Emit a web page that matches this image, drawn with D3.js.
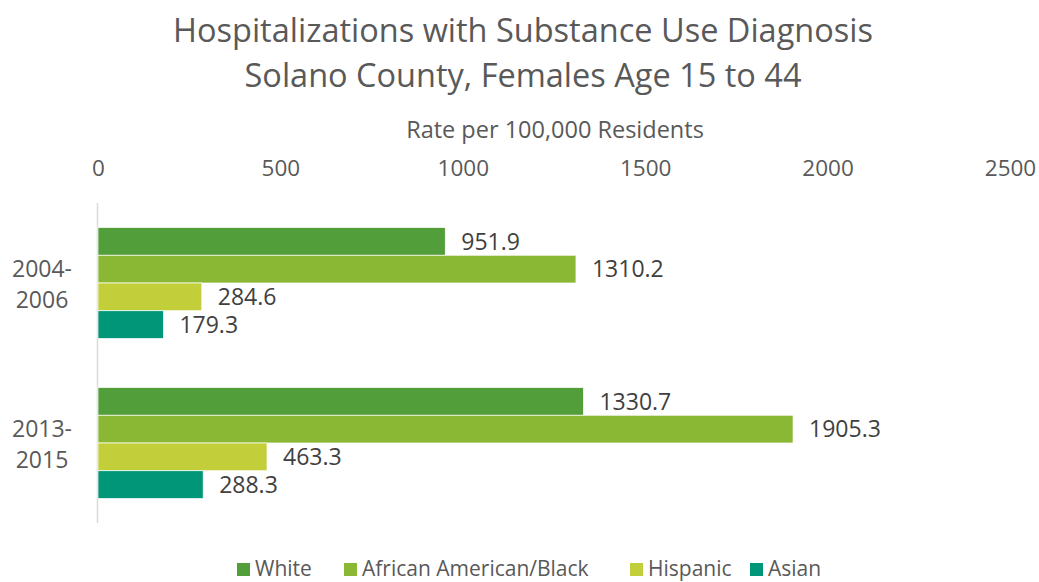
<!DOCTYPE html>
<html>
<head>
<meta charset="utf-8">
<script src="https://cdn.jsdelivr.net/npm/d3@7"></script>
<style>
  html, body { margin: 0; padding: 0; background: #fff; }
  svg { display: block; }
  text { font-family: "Open Sans", "Noto Sans", sans-serif; }
</style>
</head>
<body>
<svg id="chart" width="1039" height="582"></svg>
<script>
// Hospitalization rates per 100,000 residents, Solano County females 15-44
const periods = [["2004-", "2006"], ["2013-", "2015"]];
const periodKeys = ["2004-2006", "2013-2015"];
const groups = ["White", "African American/Black", "Hispanic", "Asian"];
const white = [951.9, 1330.7];
const black = [1310.2, 1905.3];
const hispanic = [284.6, 463.3];
const asian = [179.3, 288.3];
const xTicks = [0, 500, 1000, 1500, 2000, 2500];
const colors = ["#529E3B", "#8BB834", "#C3CF3A", "#029678"];

const seriesValues = [white, black, hispanic, asian];

const svg = d3.select("#chart");
const textColor = "#595959";

const x = d3.scaleLinear().domain([0, 2500]).range([98, 1010]);
const y0 = d3.scaleBand().domain(periodKeys).range([203, 523]).paddingInner(0).paddingOuter(0);
const groupInner = 111;
const y1 = d3.scaleBand().domain(groups).range([0, groupInner]).padding(0);

// Title
svg.append("text")
  .attr("x", 523).attr("y", 42)
  .attr("text-anchor", "middle")
  .attr("font-size", 32.5).attr("fill", textColor)
  .text("Hospitalizations with Substance Use Diagnosis");
svg.append("text")
  .attr("x", 523).attr("y", 87)
  .attr("text-anchor", "middle")
  .attr("font-size", 32.5).attr("fill", textColor)
  .text("Solano County, Females Age 15 to 44");

// Axis title
svg.append("text")
  .attr("x", 555).attr("y", 138)
  .attr("text-anchor", "middle")
  .attr("font-size", 23.5).attr("fill", textColor)
  .text("Rate per 100,000 Residents");

// Top axis tick labels
const xAxis = d3.axisTop(x).tickValues(xTicks).tickSize(0).tickPadding(0).tickFormat(d3.format("d"));
const gx = svg.append("g").attr("transform", "translate(0,176)").call(xAxis);
gx.select(".domain").remove();
gx.selectAll("text")
  .attr("font-size", 22.5).attr("fill", textColor)
  .attr("font-family", "'Open Sans', 'Noto Sans', sans-serif");

// Vertical category axis line
svg.append("line")
  .attr("x1", 97.5).attr("x2", 97.5)
  .attr("y1", 203).attr("y2", 523)
  .attr("stroke", "#d9d9d9").attr("stroke-width", 1.5);

// Bars
const gap = (y0.bandwidth() - groupInner) / 2;
periodKeys.forEach((p, i) => {
  const g = svg.append("g").attr("transform", `translate(0,${y0(p) + gap})`);
  groups.forEach((name, j) => {
    const v = seriesValues[j][i];
    g.append("rect")
      .attr("x", x(0))
      .attr("y", y1(name))
      .attr("width", x(v) - x(0))
      .attr("height", y1.bandwidth())
      .attr("fill", colors[j])
      .attr("stroke", "#fff").attr("stroke-width", 0.7);
    g.append("text")
      .attr("x", x(v) + 16)
      .attr("y", y1(name) + y1.bandwidth() / 2)
      .attr("dy", "0.36em")
      .attr("font-size", 23).attr("fill", "#404040")
      .text(v.toFixed(1));
  });
  // Category label (two lines)
  const cy = y0(p) + y0.bandwidth() / 2;
  svg.append("text")
    .attr("x", 42).attr("y", cy - 14)
    .attr("dy", "0.36em")
    .attr("text-anchor", "middle")
    .attr("font-size", 23).attr("fill", textColor)
    .text(periods[i][0]);
  svg.append("text")
    .attr("x", 42).attr("y", cy + 17)
    .attr("dy", "0.36em")
    .attr("text-anchor", "middle")
    .attr("font-size", 23).attr("fill", textColor)
    .text(periods[i][1]);
});

// Legend
const legendX = [237, 344, 630, 750];
const legend = svg.append("g");
groups.forEach((name, j) => {
  legend.append("rect")
    .attr("x", legendX[j]).attr("y", 563)
    .attr("width", 13).attr("height", 13)
    .attr("fill", colors[j]);
  legend.append("text")
    .attr("x", legendX[j] + 18).attr("y", 568.5)
    .attr("dy", "0.36em")
    .attr("font-size", 21).attr("fill", textColor)
    .text(name);
});
</script>
</body>
</html>
